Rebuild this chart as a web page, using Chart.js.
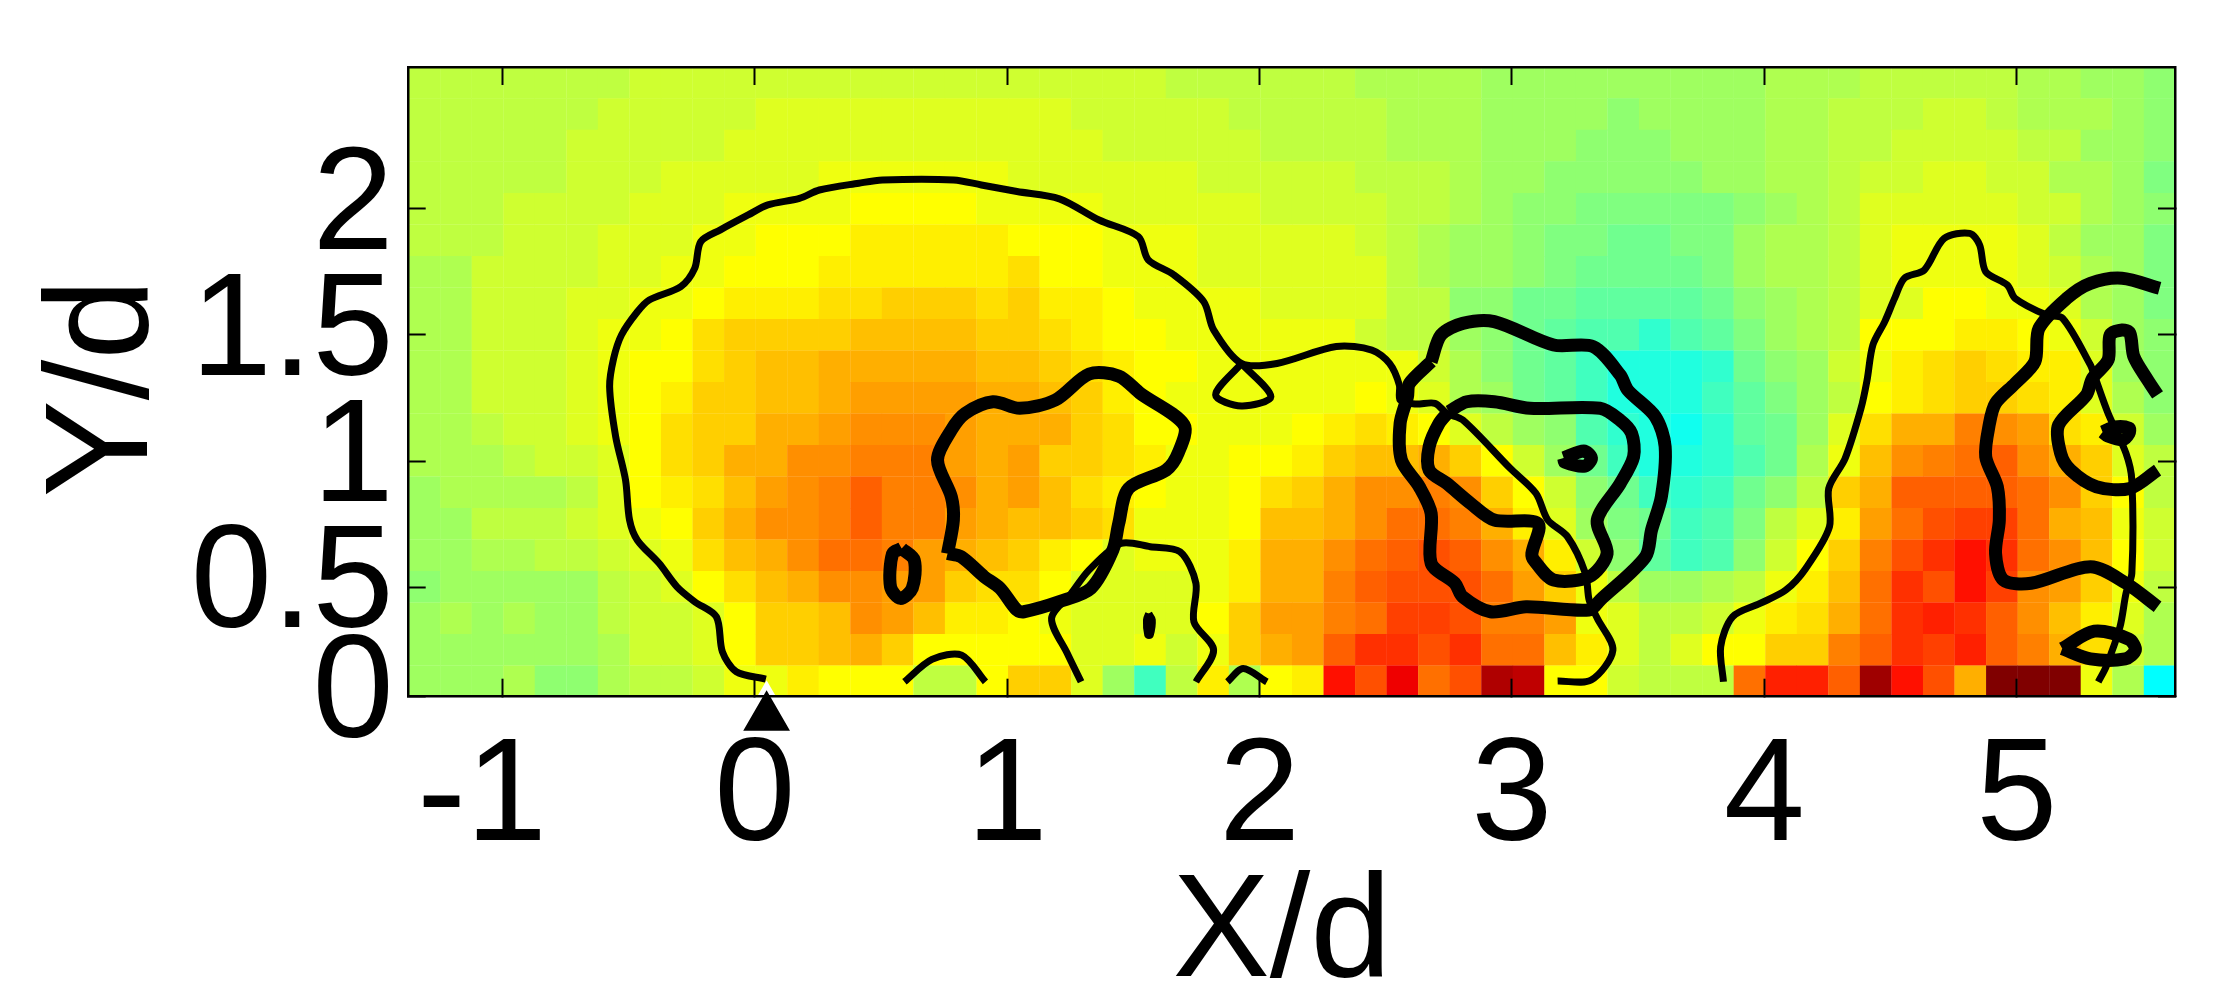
<!DOCTYPE html>
<html>
<head>
<meta charset="utf-8">
<title>X/d Y/d map</title>
<script src="https://cdn.jsdelivr.net/npm/chart.js@4/dist/chart.umd.min.js"></script>
<style>
  html, body { margin: 0; padding: 0; background: #fff; }
  canvas { display: block; }
</style>
</head>
<body>
<canvas id="chart" width="2228" height="988"></canvas>
<script>
// axis ranges and ticks
const xRange = [-1.371, 5.627];
const yRange = [0.065, 2.563];
const xTickValues = [-1, 0, 1, 2, 3, 4, 5];
const xTickLabels = ['-1 ', '0', '1', '2', '3', '4', '5'];
const yTickValues = [0.065, 0.5, 1, 1.5, 2];
const yTickLabels = ['0', '0.5', '1', '1.5', '2'];

// colour levels of the map, jet(64) index, top row first
const levelRows = [
  [36,36,36,36,36,36,36,37,37,37,37,37,37,37,37,37,37,37,37,37,37,37,37,37,36,36,36,36,36,36,35,35,35,35,34,34,34,34,34,34,34,34,34,35,35,35,36,36,36,36,36,35,35,34,34,33],
  [36,36,36,36,36,36,37,37,37,37,37,38,38,38,38,38,38,38,38,38,38,37,37,37,37,37,36,36,36,36,36,35,35,35,34,34,34,34,33,34,34,34,34,35,35,36,36,36,37,37,36,35,35,35,34,33],
  [36,36,36,36,36,37,37,37,37,37,38,38,38,38,38,38,38,38,38,38,38,38,37,37,37,37,37,36,36,36,36,35,35,35,34,34,34,33,33,33,34,34,34,35,35,36,36,37,37,37,37,36,36,34,34,33],
  [36,36,36,36,36,37,37,37,38,38,38,38,38,39,39,39,39,39,39,38,38,38,38,38,38,37,37,37,37,37,36,36,36,35,34,34,33,33,33,33,33,34,34,35,35,36,37,37,38,38,37,37,35,35,34,32],
  [36,36,36,37,37,37,37,38,38,38,39,39,39,39,40,40,40,40,39,39,39,39,38,38,38,38,38,37,37,37,37,36,36,35,34,33,33,32,32,32,32,32,33,34,35,36,38,38,38,38,38,37,37,35,34,33],
  [36,36,36,37,37,37,38,38,38,39,39,40,40,40,41,41,41,41,41,40,40,40,39,39,39,38,38,38,38,38,37,36,35,34,34,33,32,32,31,31,32,32,34,35,35,36,38,39,39,39,39,38,36,34,34,32],
  [35,35,37,37,37,37,38,38,39,39,40,40,40,41,41,41,41,41,41,42,40,40,39,39,39,38,38,38,38,38,38,36,35,34,34,33,32,31,31,31,31,32,34,35,35,36,38,39,39,39,39,38,37,35,34,32],
  [35,35,37,37,37,38,38,39,39,40,41,41,41,42,42,43,43,43,42,43,41,41,40,39,39,39,39,38,38,38,38,36,36,33,33,31,31,30,30,30,30,31,33,34,35,36,38,38,40,40,39,39,38,35,34,32],
  [35,35,37,37,37,38,39,39,40,42,43,43,43,43,44,44,44,44,43,43,42,41,40,40,39,39,39,39,39,39,37,36,36,34,33,31,30,29,29,27,29,30,32,34,35,36,40,40,40,41,41,40,39,37,34,33],
  [35,35,37,37,37,38,39,40,40,42,43,44,44,45,45,45,45,45,44,44,43,42,41,40,40,39,39,39,39,39,39,39,37,35,33,31,30,28,26,26,26,27,31,33,34,37,39,41,42,43,42,41,41,38,34,33],
  [35,35,37,37,37,38,39,40,41,43,43,44,44,45,46,46,46,46,45,45,44,43,41,40,39,39,39,39,39,39,40,39,38,35,34,31,30,28,26,26,26,28,30,32,34,36,40,41,42,43,43,42,41,38,35,33],
  [35,35,36,37,37,38,39,40,42,43,43,45,45,46,47,47,47,46,45,45,45,43,42,40,40,39,39,39,40,41,42,41,40,38,36,34,33,29,27,26,25,27,30,31,34,38,42,45,45,48,47,46,42,41,37,34],
  [35,35,35,36,37,37,38,40,42,43,45,45,47,47,48,48,48,46,45,46,43,43,42,41,39,39,40,40,41,43,44,44,45,43,40,37,34,31,28,26,26,27,29,31,35,39,44,47,48,49,50,47,45,43,38,36],
  [34,35,35,35,35,36,38,40,41,42,44,46,47,48,50,48,48,47,45,46,44,42,41,40,39,39,40,42,43,45,47,47,48,47,43,40,37,33,31,28,27,28,31,33,36,43,45,50,50,50,50,49,47,43,40,36],
  [34,34,36,36,36,37,38,39,40,43,45,47,47,48,50,48,48,46,45,44,44,43,42,39,39,39,40,44,44,45,47,49,49,48,45,41,38,34,32,31,28,29,32,36,38,41,46,49,51,52,52,49,45,44,39,37],
  [34,34,35,35,36,36,37,38,39,42,44,45,47,49,49,48,46,45,44,43,41,40,38,39,39,39,41,45,45,47,49,50,51,50,47,45,41,37,33,30,28,29,33,37,40,43,48,51,53,55,53,49,47,44,40,37],
  [33,34,34,34,34,34,36,37,38,40,42,44,45,47,47,46,46,43,42,42,40,38,38,38,38,39,41,45,45,48,50,51,51,51,49,46,43,39,36,34,34,35,36,39,41,44,49,53,51,55,52,47,46,43,39,36],
  [34,35,34,35,34,34,36,37,37,38,40,43,43,44,47,46,44,41,41,40,39,38,38,38,38,40,43,46,46,48,49,52,52,51,48,48,46,39,38,36,36,37,39,41,42,45,49,53,54,53,50,47,44,41,38,35],
  [34,34,34,34,34,34,35,37,37,38,40,43,43,44,45,43,40,40,40,40,40,38,38,39,37,39,43,45,46,50,53,53,51,53,49,49,44,41,38,36,38,40,40,43,43,48,50,53,52,54,50,48,45,42,37,35],
  [34,34,34,35,33,33,35,36,36,37,39,39,41,40,40,40,36,36,40,43,43,38,34,28,36,41,35,40,41,55,51,57,49,51,61,60,40,40,37,36,36,36,49,54,54,50,62,55,51,45,64,64,64,39,35,24]
];
const cellX0 = -1.371;
const cellY0 = 2.563;
const cellSize = 0.125;

// thin contour lines, [x, y]
const thinContours = [
  [[0.044,0.135],[-0.073,0.164],[-0.128,0.243],[-0.152,0.382],[-0.238,0.442],[-0.308,0.501],[-0.379,0.594],[-0.465,0.686],[-0.496,0.766],[-0.512,0.925],[-0.551,1.097],[-0.575,1.295],[-0.559,1.407],[-0.528,1.5],[-0.465,1.592],[-0.418,1.639],[-0.293,1.692],[-0.238,1.764],[-0.214,1.87],[-0.136,1.917],[-0.026,1.976],[0.052,2.016],[0.177,2.042],[0.256,2.075],[0.412,2.102],[0.506,2.115],[0.788,2.115],[0.898,2.095],[1.039,2.069],[1.207,2.04],[1.364,1.956],[1.52,1.89],[1.559,1.798],[1.661,1.738],[1.779,1.632],[1.818,1.52],[1.928,1.387],[2.069,1.387],[2.304,1.454],[2.445,1.44],[2.515,1.387],[2.554,1.301],[2.557,1.242],[2.617,1.226],[2.695,1.229],[2.742,1.189],[2.805,1.163],[2.993,0.971],[3.095,0.872],[3.142,0.766],[3.22,0.7],[3.291,0.554],[3.306,0.448],[3.338,0.376],[3.4,0.25],[3.314,0.131],[3.181,0.127]],
  [[1.928,1.387],[1.826,1.262],[1.928,1.218],[2.045,1.255],[1.928,1.387]],
  [[1.293,0.124],[1.238,0.237],[1.176,0.376],[1.254,0.475],[1.325,0.568],[1.45,0.673],[1.567,0.66],[1.685,0.64],[1.748,0.515],[1.74,0.362],[1.818,0.25],[1.748,0.124]],
  [[0.593,0.124],[0.702,0.213],[0.82,0.23],[0.914,0.124]],
  [[1.873,0.124],[1.935,0.177],[2.029,0.124]],
  [[1.561,0.395],[1.575,0.37],[1.567,0.31],[1.557,0.31],[1.552,0.37],[1.561,0.395]],
  [[3.838,0.124],[3.827,0.263],[3.874,0.382],[3.983,0.435],[4.085,0.488],[4.164,0.574],[4.258,0.739],[4.255,0.891],[4.32,1.01],[4.383,1.209],[4.407,1.321],[4.43,1.46],[4.477,1.553],[4.516,1.645],[4.555,1.725],[4.634,1.758],[4.712,1.883],[4.814,1.903],[4.853,1.857],[4.877,1.751],[4.963,1.698],[4.994,1.645],[5.119,1.579],[5.182,1.566],[5.292,1.381],[5.307,1.341],[5.362,1.189],[5.433,1.03],[5.456,0.924],[5.456,0.554],[5.433,0.475],[5.409,0.342],[5.354,0.184],[5.323,0.124]]
];

// thick contour lines, [x, y]
const thickContours = [
  [[0.764,0.633],[0.787,0.766],[0.779,0.858],[0.724,1.004],[0.779,1.123],[0.834,1.189],[0.944,1.235],[1.05,1.209],[1.191,1.242],[1.325,1.345],[1.442,1.337],[1.528,1.268],[1.701,1.143],[1.677,1.03],[1.63,0.964],[1.481,0.891],[1.442,0.752],[1.419,0.647],[1.332,0.495],[1.207,0.442],[1.066,0.402],[1.038,0.409],[0.972,0.495],[0.909,0.541],[0.818,0.62],[0.764,0.633]],
  [[0.582,0.653],[0.632,0.607],[0.624,0.495],[0.577,0.455],[0.538,0.501],[0.546,0.633],[0.582,0.653]],
  [[2.68,1.394],[2.719,1.5],[2.805,1.546],[2.93,1.553],[3.165,1.46],[3.322,1.454],[3.429,1.341],[3.459,1.281],[3.568,1.176],[3.607,1.057],[3.592,0.858],[3.553,0.726],[3.529,0.62],[3.349,0.448],[3.306,0.409],[3.056,0.422],[2.915,0.402],[2.805,0.461],[2.774,0.515],[2.68,0.594],[2.68,0.792],[2.633,0.898],[2.562,1.004],[2.557,1.149],[2.586,1.255],[2.594,1.308],[2.68,1.394]],
  [[2.75,1.196],[2.821,1.235],[2.93,1.235],[3.071,1.209],[3.349,1.209],[3.427,1.163],[3.474,1.11],[3.482,1.017],[3.429,0.911],[3.338,0.766],[3.377,0.633],[3.306,0.541],[3.165,0.528],[3.087,0.607],[3.079,0.633],[3.103,0.752],[2.93,0.766],[2.836,0.832],[2.742,0.911],[2.672,0.964],[2.672,1.057],[2.711,1.149],[2.75,1.196]],
  [[3.205,1.012],[3.285,1.04],[3.315,1.012],[3.29,0.98],[3.21,0.995],[3.205,1.012]],
  [[5.566,1.685],[5.417,1.725],[5.292,1.705],[5.198,1.645],[5.088,1.526],[5.072,1.394],[4.994,1.308],[4.916,1.229],[4.892,1.149],[4.877,1.017],[4.923,0.898],[4.931,0.766],[4.916,0.633],[4.947,0.528],[5.057,0.515],[5.292,0.581],[5.433,0.515],[5.558,0.422]],
  [[5.558,1.262],[5.519,1.321],[5.464,1.414],[5.448,1.507],[5.417,1.52],[5.37,1.5],[5.362,1.401],[5.3,1.328],[5.276,1.262],[5.166,1.143],[5.174,1.03],[5.213,0.964],[5.315,0.898],[5.448,0.891],[5.558,0.964]],
  [[5.34,1.115],[5.39,1.135],[5.445,1.13],[5.445,1.11],[5.42,1.085],[5.36,1.1],[5.34,1.115]],
  [[5.18,0.256],[5.307,0.325],[5.445,0.293],[5.47,0.25],[5.43,0.215],[5.292,0.215],[5.18,0.256]]
];

// triangle marker under the axis
const markerPoint = [{ x: 0.047, y: -0.017 }];

const fontFamily = '"Liberation Sans", Arial, sans-serif';
const fontSize = 146;

// MATLAB jet(64)
function jetColor(level) {
  const ramp = v => Math.max(0, Math.min(1, v));
  const t = level / 16;
  const r = ramp(Math.min(t - 1.5, 4.5 - t));
  const g = ramp(Math.min(t - 0.5, 3.5 - t));
  const b = ramp(Math.min(t + 0.5, 2.5 - t));
  return `rgb(${Math.round(r * 255)},${Math.round(g * 255)},${Math.round(b * 255)})`;
}

const cellPoints = [];
const cellColors = [];
levelRows.forEach((row, r) => {
  row.forEach((level, c) => {
    cellPoints.push({ x: cellX0 + (c + 0.5) * cellSize, y: cellY0 - (r + 0.5) * cellSize });
    cellColors.push(jetColor(level));
  });
});

function lineDataset(points, width) {
  return {
    type: 'scatter',
    data: points.map(p => ({ x: p[0], y: p[1] })),
    showLine: true,
    pointRadius: 0,
    borderColor: '#000',
    borderWidth: width,
    borderJoinStyle: 'round',
    tension: 0.3,
    order: 5
  };
}

const datasets = [
  {
    type: 'scatter',
    data: markerPoint,
    pointStyle: 'triangle',
    pointRadius: 32,
    pointBackgroundColor: '#000',
    pointBorderColor: '#fff',
    pointBorderWidth: 5,
    clip: false,
    order: 1
  },
  ...thinContours.map(p => lineDataset(p, 7)),
  ...thickContours.map(p => lineDataset(p, 13)),
  {
    type: 'scatter',
    data: cellPoints,
    pointStyle: 'rect',
    pointRadius: ctx => {
      const s = ctx.chart.scales.x;
      return (s.getPixelForValue(cellSize) - s.getPixelForValue(0)) / Math.SQRT2 + 0.2;
    },
    pointBackgroundColor: cellColors,
    pointBorderWidth: 0,
    order: 10
  }
];

// axis names
const axisNames = {
  id: 'axisNames',
  afterDraw(chart) {
    const ctx = chart.ctx;
    ctx.save();
    ctx.fillStyle = '#000';
    ctx.font = `${fontSize}px ${fontFamily}`;
    ctx.textAlign = 'center';
    ctx.textBaseline = 'alphabetic';
    ctx.fillText('X/d', 1282, 976);
    ctx.translate(147, 388);
    ctx.rotate(-Math.PI / 2);
    ctx.fillText('Y/d', 0, 0);
    ctx.restore();
  }
};

// the big labels must not push the plot area in
function noPadding(s) {
  s.paddingTop = 0;
  s.paddingBottom = 0;
  s.paddingLeft = 0;
  s.paddingRight = 0;
}

function frameAxis(position, axis, range, tickValues) {
  return {
    type: 'linear',
    position,
    axis,
    min: range[0],
    max: range[1],
    afterBuildTicks: s => { s.ticks = tickValues.map(v => ({ value: v })); },
    afterFit: s => {
      if (axis === 'x') s.height = 0; else s.width = 0;
      noPadding(s);
    },
    ticks: { display: false, autoSkip: false },
    border: { display: true, color: '#000', width: 2.5, z: 2 },
    grid: { drawOnChartArea: false, drawTicks: true, tickLength: axis === 'x' ? -18 : -17, tickWidth: 2, tickColor: '#000', z: 2 }
  };
}

new Chart(document.getElementById('chart'), {
  data: { datasets },
  plugins: [axisNames],
  options: {
    responsive: false,
    animation: false,
    events: [],
    layout: { padding: { top: 67, right: 53, left: 0, bottom: 0 } },
    plugins: { legend: { display: false }, tooltip: { enabled: false }, title: { display: false } },
    scales: {
      x: {
        type: 'linear',
        position: 'bottom',
        min: xRange[0],
        max: xRange[1],
        afterBuildTicks: s => { s.ticks = xTickValues.map(v => ({ value: v })); },
        afterFit: s => { s.height = 291.3; noPadding(s); },
        ticks: {
          autoSkip: false,
          maxRotation: 0,
          minRotation: 0,
          padding: 33,
          color: '#000',
          font: { family: fontFamily, size: fontSize },
          callback: (v, i) => xTickLabels[i]
        },
        border: { display: true, color: '#000', width: 2.5, z: 2 },
        grid: { drawOnChartArea: false, drawTicks: true, tickLength: -18, tickWidth: 2, tickColor: '#000', z: 2 }
      },
      y: {
        type: 'linear',
        position: 'left',
        min: yRange[0],
        max: yRange[1],
        afterBuildTicks: s => { s.ticks = yTickValues.map(v => ({ value: v })); },
        afterFit: s => { s.width = 408.7; noPadding(s); },
        ticks: {
          autoSkip: false,
          padding: 32,
          color: '#000',
          font: { family: fontFamily, size: fontSize },
          callback: (v, i) => yTickLabels[i]
        },
        border: { display: true, color: '#000', width: 2.5, z: 2 },
        grid: { drawOnChartArea: false, drawTicks: true, tickLength: -17, tickWidth: 2, tickColor: '#000', z: 2 }
      },
      xTop: frameAxis('top', 'x', xRange, xTickValues),
      yRight: frameAxis('right', 'y', yRange, yTickValues)
    }
  }
});
</script>
</body>
</html>
